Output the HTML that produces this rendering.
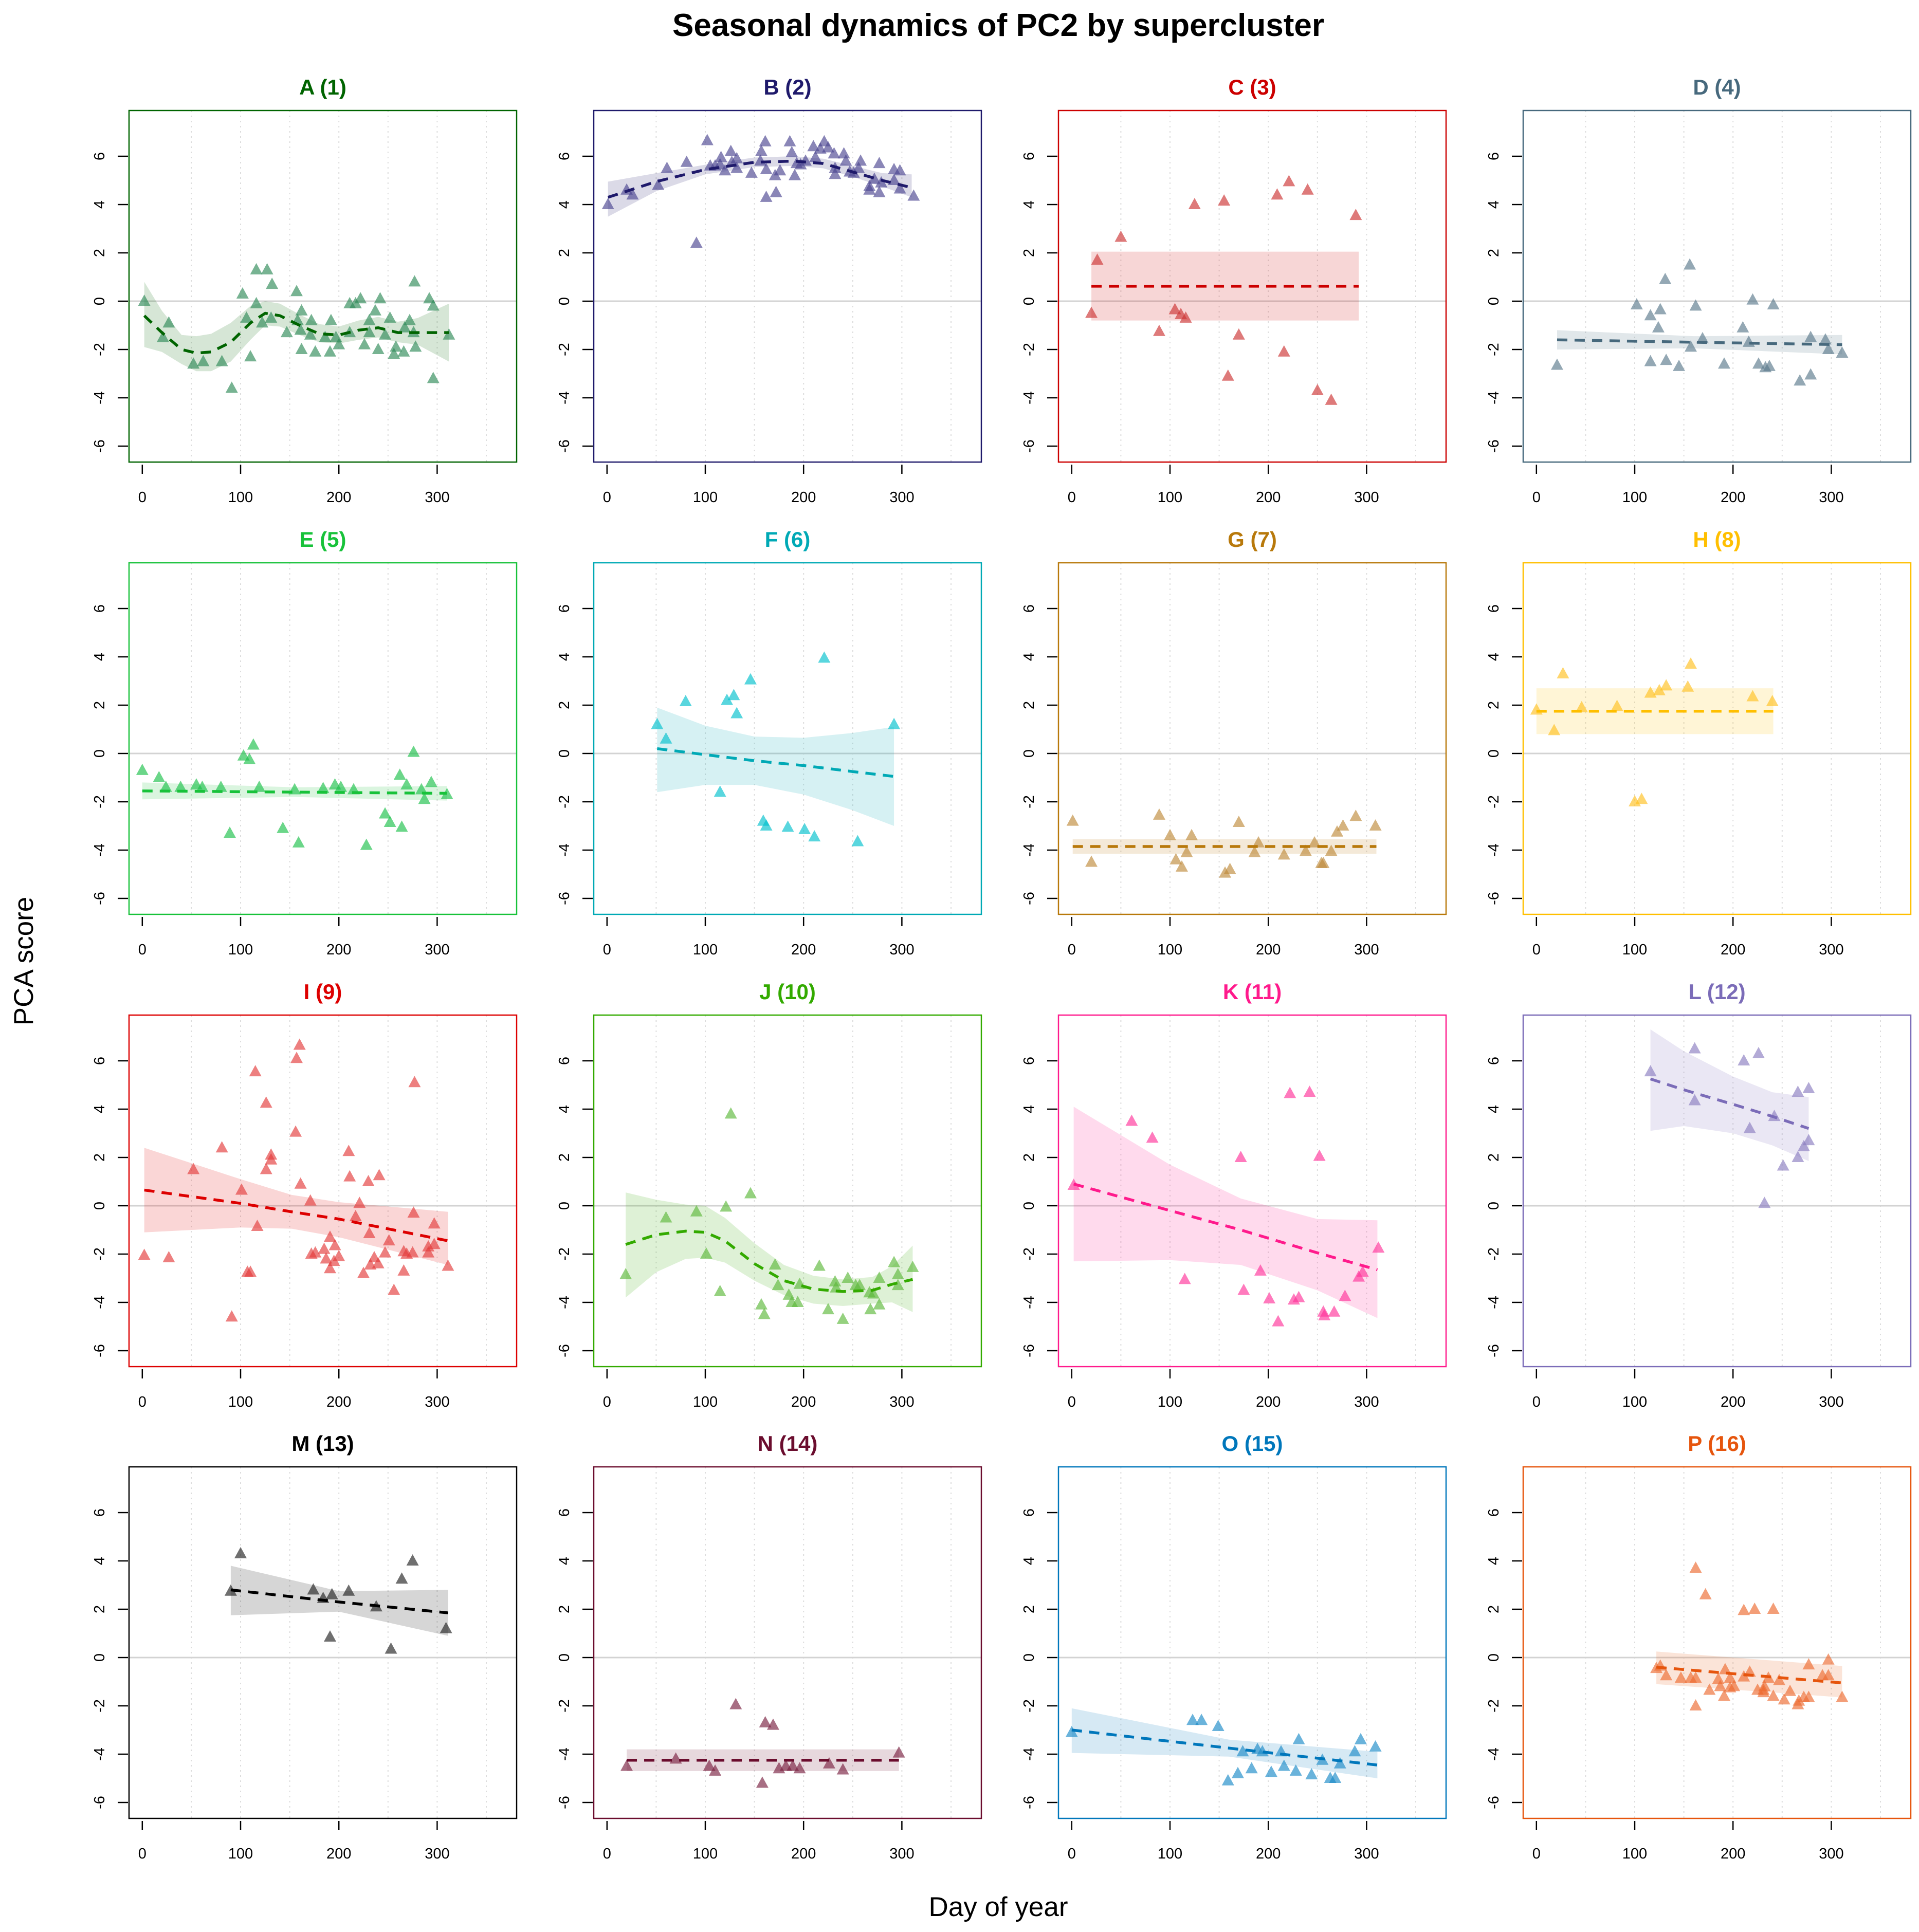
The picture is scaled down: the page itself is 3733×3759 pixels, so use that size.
<!DOCTYPE html>
<html><head><meta charset="utf-8"><title>Seasonal dynamics of PC2 by supercluster</title>
<style>
html,body{margin:0;padding:0;background:#fff;}
svg{display:block;font-family:"Liberation Sans",Arial,sans-serif;}
</style></head>
<body>
<svg id="chart" xmlns="http://www.w3.org/2000/svg" width="3733" height="3759" viewBox="0 0 3733 3759">
<rect x="0" y="0" width="3733" height="3759" fill="#ffffff"/>
<text x="1942" y="70" font-size="62" font-weight="bold" text-anchor="middle" fill="#000">Seasonal dynamics of PC2 by supercluster</text>
<text x="1942" y="3728" font-size="53" text-anchor="middle" fill="#000">Day of year</text>
<text x="64" y="1870" font-size="53" text-anchor="middle" fill="#000" transform="rotate(-90 64 1870)">PCA score</text>
</svg>
<script>
// ===== Data =====
const xTicks = [0, 100, 200, 300];
const xTickLabels = ["0", "100", "200", "300"];
const gridDays = [50, 100, 150, 200, 250, 300, 350];
const yTicks = [6, 4, 2, 0, -2, -4, -6];
const yTickLabels = ["6", "4", "2", "0", "-2", "-4", "-6"];

const daysA = [2,27,21,52,62,81,91,102,110,106,116,127,132,116,122,131,147,157,162,158,161,162,172,171,176,186,192,191,197,200,211,217,222,211,226,231,231,237,240,242,247,252,256,258,266,267,272,276,278,277,292,296,296,312];
const scoresA = [0.0,-0.9,-1.5,-2.6,-2.5,-2.5,-3.6,0.3,-2.3,-0.7,1.3,1.3,0.7,-0.1,-0.9,-0.7,-1.3,0.4,-0.4,-0.8,-1.2,-2.0,-0.8,-1.4,-2.1,-1.5,-0.8,-2.1,-1.5,-1.8,-0.1,-0.1,0.1,-1.3,-1.8,-1.3,-0.8,-0.4,-2.0,0.1,-1.4,-0.7,-2.2,-1.9,-2.1,-1.1,-0.8,-1.3,-1.9,0.8,0.1,-0.2,-3.2,-1.4];
const fitDaysA = [2,20,40,55,70,90,110,125,140,160,180,200,220,240,260,280,312];
const fitA = [-0.6,-1.3,-2.0,-2.15,-2.1,-1.7,-0.9,-0.5,-0.6,-1.0,-1.35,-1.4,-1.2,-1.1,-1.3,-1.3,-1.3];
const loA = [-1.9,-2.1,-2.6,-2.9,-2.9,-2.5,-1.6,-1.0,-1.05,-1.4,-1.7,-1.75,-1.6,-1.5,-1.7,-1.8,-2.5];
const hiA = [0.8,-0.4,-1.4,-1.45,-1.35,-0.9,-0.2,0.0,-0.1,-0.55,-0.95,-1.05,-0.8,-0.65,-0.85,-0.7,-0.1];

const daysB = [1,20,26,52,61,81,91,102,105,110,116,115,120,126,127,132,132,147,157,156,161,162,162,172,171,176,186,188,191,193,197,202,210,212,217,221,225,231,232,232,241,243,247,251,256,258,272,267,267,277,277,279,292,292,298,298,312];
const scoresB = [4.0,4.6,4.4,4.8,5.5,5.75,2.4,6.65,5.6,5.6,5.95,5.65,5.4,6.2,5.75,5.9,5.5,5.3,6.2,5.8,6.6,5.45,4.3,4.5,5.2,5.4,6.6,6.15,5.2,5.7,5.65,5.8,6.4,5.95,6.3,6.6,6.35,6.1,5.5,5.25,6.1,5.8,5.35,5.3,5.5,5.8,5.05,4.75,4.6,5.7,4.5,4.9,5.45,5.0,5.4,4.65,4.35];
const fitDaysB = [1,50,100,150,190,220,250,280,310];
const fitB = [4.3,4.95,5.45,5.75,5.8,5.7,5.35,5.0,4.7];
const loB = [3.5,4.55,5.25,5.55,5.6,5.5,5.15,4.75,4.3];
const hiB = [4.95,5.3,5.65,5.95,6.0,5.9,5.6,5.3,5.25];

const daysC = [20,26,50,89,105,111,116,125,155,170,159,209,221,216,240,250,264,289];
const scoresC = [-0.5,1.7,2.65,-1.25,-0.35,-0.55,-0.7,4.0,4.15,-1.4,-3.1,4.4,4.95,-2.1,4.6,-3.7,-4.1,3.55];
const fitDaysC = [20,292];
const fitC = [0.62,0.62];
const loC = [-0.8,-0.8];
const hiC = [2.05,2.05];

const daysD = [21,102,116,124,131,126,116,132,145,156,162,157,169,191,210,220,216,226,233,241,237,268,279,279,294,297,311];
const scoresD = [-2.65,-0.15,-0.6,-1.1,0.9,-0.35,-2.5,-2.45,-2.7,1.5,-0.2,-1.9,-1.55,-2.6,-1.1,0.05,-1.7,-2.6,-2.75,-0.15,-2.7,-3.3,-3.05,-1.5,-1.6,-2.0,-2.15];
const fitDaysD = [21,160,311];
const fitD = [-1.6,-1.7,-1.8];
const loD = [-2.0,-1.95,-2.2];
const hiD = [-1.2,-1.45,-1.4];

const daysE = [0,17,24,39,55,61,80,89,103,109,113,119,143,159,155,184,196,202,215,228,247,252,264,262,269,276,284,287,294,310];
const scoresE = [-0.7,-1.0,-1.4,-1.4,-1.3,-1.4,-1.4,-3.3,-0.1,-0.25,0.35,-1.4,-3.1,-3.7,-1.5,-1.45,-1.3,-1.4,-1.5,-3.8,-2.5,-2.85,-3.05,-0.9,-1.3,0.05,-1.5,-1.9,-1.2,-1.7];
const fitDaysE = [0,155,310];
const fitE = [-1.55,-1.6,-1.65];
const loE = [-1.9,-1.8,-1.95];
const hiE = [-1.2,-1.4,-1.35];

const daysF = [51,60,80,115,122,129,132,146,159,162,184,201,211,221,255,292];
const scoresF = [1.2,0.6,2.15,-1.6,2.2,2.4,1.65,3.05,-2.8,-3.0,-3.05,-3.15,-3.45,3.95,-3.65,1.2];
const fitDaysF = [51,100,150,200,250,292];
const fitF = [0.2,-0.05,-0.3,-0.5,-0.75,-0.95];
const loF = [-1.6,-1.3,-1.3,-1.7,-2.35,-3.0];
const hiF = [1.9,1.15,0.7,0.65,0.85,1.1];

const daysG = [1,20,89,100,106,112,117,122,156,161,170,186,190,216,238,247,254,256,264,270,276,289,309];
const scoresG = [-2.8,-4.5,-2.55,-3.4,-4.4,-4.7,-4.1,-3.4,-4.95,-4.8,-2.85,-4.1,-3.7,-4.2,-4.05,-3.7,-4.55,-4.55,-4.05,-3.25,-3.0,-2.6,-3.0];
const fitDaysG = [1,310];
const fitG = [-3.85,-3.85];
const loG = [-4.15,-4.15];
const hiG = [-3.55,-3.55];

const daysH = [0,18,27,46,82,100,107,116,125,132,154,157,220,240];
const scoresH = [1.8,0.95,3.3,1.9,1.95,-2.0,-1.9,2.5,2.6,2.8,2.75,3.7,2.35,2.15];
const fitDaysH = [0,241];
const fitH = [1.75,1.75];
const loH = [0.8,0.8];
const hiH = [2.7,2.7];

const daysI = [2,27,52,81,91,101,107,110,115,117,126,131,131,126,160,157,156,161,171,172,176,185,187,191,191,196,195,200,210,211,217,221,225,230,231,232,236,240,241,247,251,256,266,266,269,275,277,276,291,291,297,297,311];
const scoresI = [-2.05,-2.15,1.5,2.4,-4.6,0.65,-2.75,-2.75,5.55,-0.85,4.25,2.1,1.9,1.5,6.65,6.1,3.05,0.9,0.2,-2.0,-1.95,-1.8,-2.2,-1.3,-2.6,-1.65,-2.3,-2.1,2.25,1.2,-0.45,0.1,-2.8,1.0,-1.15,-2.45,-2.15,-2.4,1.25,-1.95,-1.45,-3.5,-2.7,-1.9,-2.0,-1.95,5.1,-0.3,-1.95,-1.7,-1.6,-0.75,-2.5];
const fitDaysI = [2,100,152,200,311];
const fitI = [0.65,0.1,-0.25,-0.55,-1.45];
const loI = [-1.1,-0.9,-0.95,-1.3,-2.45];
const hiI = [2.4,1.1,0.45,0.15,-0.25];

const daysJ = [19,60,91,101,115,121,126,146,157,160,171,174,185,188,194,196,216,225,232,233,240,245,253,257,267,268,271,277,277,292,296,296,311];
const scoresJ = [-2.85,-0.5,-0.25,-2.0,-3.55,-0.05,3.8,0.5,-4.1,-4.5,-2.45,-3.3,-3.7,-4.0,-4.0,-3.25,-2.5,-4.3,-3.15,-3.4,-4.7,-3.0,-3.3,-3.3,-3.6,-4.3,-3.65,-3.0,-4.1,-2.35,-2.85,-3.3,-2.55];
const fitDaysJ = [19,50,80,100,120,150,180,210,240,270,290,311];
const fitJ = [-1.6,-1.2,-1.05,-1.1,-1.45,-2.4,-3.1,-3.45,-3.55,-3.5,-3.25,-3.05];
const loJ = [-3.8,-2.75,-2.2,-2.15,-2.35,-3.1,-3.7,-4.05,-4.15,-4.05,-4.0,-4.4];
const hiJ = [0.55,0.25,0.05,0.0,-0.5,-1.55,-2.45,-2.9,-3.05,-2.95,-2.5,-1.65];

const daysK = [2,61,82,115,172,175,192,201,210,222,226,231,242,252,256,257,267,278,292,296,312];
const scoresK = [0.85,3.5,2.8,-3.05,2.0,-3.5,-2.7,-3.85,-4.8,4.65,-3.9,-3.8,4.7,2.05,-4.4,-4.55,-4.4,-3.75,-2.95,-2.75,-1.75];
const fitDaysK = [2,100,172,250,311];
const fitK = [0.9,-0.2,-1.0,-1.95,-2.65];
const loK = [-2.3,-2.25,-2.45,-3.5,-4.65];
const hiK = [4.1,1.7,0.3,-0.55,-0.6];

const daysL = [116,161,161,211,226,217,232,242,251,266,266,272,277,277];
const scoresL = [5.55,6.5,4.35,6.0,6.3,3.2,0.1,3.7,1.65,2.0,4.7,2.45,2.7,4.85];
const fitDaysL = [116,150,200,240,277];
const fitL = [5.25,4.8,4.2,3.7,3.2];
const loL = [3.1,3.3,3.0,2.5,1.85];
const hiL = [7.3,6.4,5.35,4.7,4.5];

const daysM = [90,100,174,184,191,193,210,238,253,264,275,309];
const scoresM = [2.75,4.3,2.8,2.45,0.85,2.6,2.75,2.1,0.35,3.25,4.0,1.2];
const fitDaysM = [90,200,311];
const fitM = [2.8,2.3,1.85];
const loM = [1.75,1.9,0.9];
const hiM = [3.8,2.75,2.8];

const daysN = [20,70,104,110,131,158,161,169,175,182,189,196,226,240,297];
const scoresN = [-4.5,-4.2,-4.5,-4.7,-1.95,-5.2,-2.7,-2.8,-4.6,-4.5,-4.5,-4.6,-4.4,-4.65,-3.95];
const fitDaysN = [20,297];
const fitN = [-4.25,-4.25];
const loN = [-4.7,-4.7];
const hiN = [-3.8,-3.8];

const daysO = [0,123,132,149,159,169,174,183,189,194,203,213,216,228,231,244,255,263,268,273,288,294,309];
const scoresO = [-3.1,-2.6,-2.6,-2.85,-5.1,-4.8,-3.9,-4.6,-3.8,-3.9,-4.75,-3.9,-4.5,-4.7,-3.4,-4.85,-4.25,-5.0,-5.0,-4.4,-3.9,-3.4,-3.7];
const fitDaysO = [0,160,311];
const fitO = [-3.0,-3.75,-4.45];
const loO = [-3.95,-4.1,-5.0];
const hiO = [-2.1,-3.4,-3.9];

const daysP = [122,126,132,147,157,162,162,162,172,176,185,187,191,192,197,197,201,211,211,217,222,225,231,232,231,236,241,241,247,252,258,266,267,272,277,277,291,297,297,311];
const scoresP = [-0.45,-0.35,-0.75,-0.85,-0.85,-0.85,3.7,-2.0,2.6,-1.35,-0.9,-1.2,-1.6,-0.5,-1.25,-0.85,-1.2,1.95,-0.8,-0.6,2.0,-1.35,-1.35,-1.2,-1.45,-0.85,-1.6,2.0,-0.95,-1.75,-1.4,-1.95,-1.8,-1.65,-1.65,-0.3,-0.75,-0.75,-0.1,-1.65];
const fitDaysP = [122,311];
const fitP = [-0.4,-1.05];
const loP = [-1.1,-1.65];
const hiP = [0.25,-0.35];

// ===== Layout / styling (not data) =====
const panels = [
 {key:"a", title:"A (1)", color:"#006400", pt:"#2e8b57", days:daysA, scores:scoresA, fd:fitDaysA, fit:fitA, lo:loA, hi:hiA},
 {key:"b", title:"B (2)", color:"#1f1a6b", pt:"#4b4590", days:daysB, scores:scoresB, fd:fitDaysB, fit:fitB, lo:loB, hi:hiB},
 {key:"c", title:"C (3)", color:"#cc0000", pt:"#cc3333", days:daysC, scores:scoresC, fd:fitDaysC, fit:fitC, lo:loC, hi:hiC},
 {key:"d", title:"D (4)", color:"#47697d", pt:"#5b7a8c", days:daysD, scores:scoresD, fd:fitDaysD, fit:fitD, lo:loD, hi:hiD},
 {key:"e", title:"E (5)", color:"#18c23a", pt:"#1cc04a", days:daysE, scores:scoresE, fd:fitDaysE, fit:fitE, lo:loE, hi:hiE},
 {key:"f", title:"F (6)", color:"#00a9b5", pt:"#00c0cc", days:daysF, scores:scoresF, fd:fitDaysF, fit:fitF, lo:loF, hi:hiF},
 {key:"g", title:"G (7)", color:"#b8790b", pt:"#bf8a3a", days:daysG, scores:scoresG, fd:fitDaysG, fit:fitG, lo:loG, hi:hiG},
 {key:"h", title:"H (8)", color:"#ffbf00", pt:"#ffc020", days:daysH, scores:scoresH, fd:fitDaysH, fit:fitH, lo:loH, hi:hiH},
 {key:"i", title:"I (9)", color:"#dd0000", pt:"#e33a3a", days:daysI, scores:scoresI, fd:fitDaysI, fit:fitI, lo:loI, hi:hiI},
 {key:"j", title:"J (10)", color:"#33aa00", pt:"#5cb83a", days:daysJ, scores:scoresJ, fd:fitDaysJ, fit:fitJ, lo:loJ, hi:hiJ},
 {key:"k", title:"K (11)", color:"#ff1a8c", pt:"#ff3399", days:daysK, scores:scoresK, fd:fitDaysK, fit:fitK, lo:loK, hi:hiK},
 {key:"l", title:"L (12)", color:"#7b6cb8", pt:"#8a7dc0", days:daysL, scores:scoresL, fd:fitDaysL, fit:fitL, lo:loL, hi:hiL},
 {key:"m", title:"M (13)", color:"#000000", pt:"#222222", days:daysM, scores:scoresM, fd:fitDaysM, fit:fitM, lo:loM, hi:hiM},
 {key:"n", title:"N (14)", color:"#6b0d2e", pt:"#7a2040", days:daysN, scores:scoresN, fd:fitDaysN, fit:fitN, lo:loN, hi:hiN},
 {key:"o", title:"O (15)", color:"#0077bb", pt:"#1a8ac8", days:daysO, scores:scoresO, fd:fitDaysO, fit:fitO, lo:loO, hi:hiO},
 {key:"p", title:"P (16)", color:"#e6550d", pt:"#ec6a30", days:daysP, scores:scoresP, fd:fitDaysP, fit:fitP, lo:loP, hi:hiP}
];
const colLeft = [251, 1155, 2059, 2963];
const rowTop = [215, 1095, 1975, 2854];
const W = 754, H = 684;
const NS = "http://www.w3.org/2000/svg";
const svg = document.getElementById("chart");

function mk(tag, attrs, parent) {
  const e = document.createElementNS(NS, tag);
  for (const k in attrs) e.setAttribute(k, attrs[k]);
  parent.appendChild(e);
  return e;
}

panels.forEach((p, idx) => {
  const left = colLeft[idx % 4], top = rowTop[Math.floor(idx / 4)];
  const xs = d => left + 25.8 + d * 1.912;
  const ys = v => top + 371 - v * 47.0;
  const g = mk("g", {}, svg);
  
  

  const t = mk("text", {x: left + W / 2, y: top - 31, "font-size": 42, "font-weight": "bold", "text-anchor": "middle", fill: p.color}, g);
  t.textContent = p.title;
  
  

  gridDays.forEach(d => {
    const gl = mk("line", {x1: xs(d), x2: xs(d), y1: top, y2: top + H, stroke: "#dcdcdc", "stroke-width": 2, "stroke-dasharray": "3 7"}, g);
    
    
  });
  const zl = mk("line", {x1: left, x2: left + W, y1: ys(0), y2: ys(0), stroke: "#d3d3d3", "stroke-width": 3}, g);
  
  

  // confidence band
  let bp = p.fd.map((d, i) => xs(d) + "," + ys(p.hi[i])).join(" ");
  bp += " " + p.fd.map((d, i) => xs(d) + "," + ys(p.lo[i])).reverse().join(" ");
  const band = mk("polygon", {points: bp, fill: p.color, "fill-opacity": 0.16}, g);
  
  

  // points
  p.days.forEach((d, i) => {
    const cx = xs(d), cy = ys(p.scores[i]);
    const tri = mk("polygon", {points: `${cx},${cy - 13} ${cx - 12},${cy + 9} ${cx + 12},${cy + 9}`, fill: p.pt, "fill-opacity": 0.65}, g);
    
    
  });

  // trend line
  const lp = p.fd.map((d, i) => xs(d) + "," + ys(p.fit[i])).join(" ");
  const tl = mk("polyline", {points: lp, fill: "none", stroke: p.color, "stroke-width": 5.5, "stroke-dasharray": "20 14", "stroke-linejoin": "round"}, g);
  
  

  // box
  const box = mk("rect", {x: left, y: top, width: W, height: H, fill: "none", stroke: p.color, "stroke-width": 2.5}, g);
  
  

  // y axis
  yTicks.forEach((v, i) => {
    const tk = mk("line", {x1: left - 22, x2: left - 2, y1: ys(v), y2: ys(v), stroke: "#000", "stroke-width": 2.5}, g);
    
    
    const lx = left - 48, ly = ys(v);
    const lb = mk("text", {x: lx, y: ly, "font-size": 29, "text-anchor": "middle", fill: "#000", transform: `rotate(-90 ${lx} ${ly})`}, g);
    lb.textContent = yTickLabels[i];
    
    
  });
  // x axis
  xTicks.forEach((d, i) => {
    const tk = mk("line", {x1: xs(d), x2: xs(d), y1: top + H + 5, y2: top + H + 23, stroke: "#000", "stroke-width": 2.5}, g);
    
    
    const lb = mk("text", {x: xs(d), y: top + H + 78, "font-size": 29, "text-anchor": "middle", fill: "#000"}, g);
    lb.textContent = xTickLabels[i];
    
    
  });
});
</script>
</body></html>
